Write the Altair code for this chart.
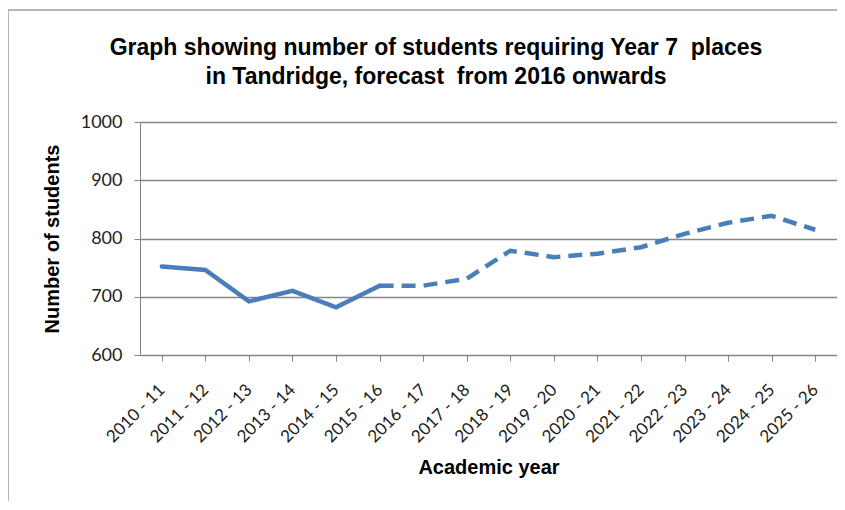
import altair as alt
import pandas as pd

years = ["2010 - 11", "2011 - 12", "2012 - 13", "2013 - 14", "2014 - 15", "2015 - 16",
         "2016 - 17", "2017 - 18", "2018 - 19", "2019 - 20", "2020 - 21", "2021 - 22",
         "2022 - 23", "2023 - 24", "2024 - 25", "2025 - 26"]
students = [752, 746, 692, 710, 682, 719, 719, 731, 779, 768, 774, 785, 808, 827, 839, 815]
actual_count = 6  # 2010-11 .. 2015-16 are actual; forecast continues from 2015-16
title_lines = ["Graph showing number of students requiring Year 7\u00a0 places",
               "in Tandridge, forecast\u00a0 from 2016 onwards"]

df = pd.DataFrame({"year": years, "students": students})
df_actual = df.iloc[:actual_count]
df_forecast = df.iloc[actual_count - 1:]

W, H = 697, 233
LINE_COLOR = "#4a7ebb"
NARROW = "Liberation Sans Narrow, Liberation Sans, Arial"

x_enc = alt.X("year:N", sort=years, title="Academic year",
              scale=alt.Scale(paddingInner=0, paddingOuter=0),
              axis=alt.Axis(labelAngle=-45, labelAlign="right", labelBaseline="middle",
                            labelPadding=26, tickSize=6, ticks=True, domainColor="#868686",
                            tickColor="#868686", grid=False, titlePadding=12,
                            bandPosition=0, labelFont="Lato", labelFontSize=17,
                            labelColor="#222222", titleFont=NARROW, titleFontSize=20,
                            titleFontWeight="bold", titleColor="#000000"))
y_enc = alt.Y("students:Q", title="Number of students",
              scale=alt.Scale(domain=[600, 1000], nice=False, zero=False),
              axis=alt.Axis(values=[600, 700, 800, 900, 1000], format="d", tickSize=6,
                            domainColor="#868686", tickColor="#868686",
                            gridColor="#868686", gridWidth=1.3, titlePadding=18,
                            labelPadding=12, labelFont="Lato", labelFontSize=18,
                            labelColor="#222222", titleFont=NARROW, titleFontSize=20,
                            titleFontWeight="bold", titleColor="#000000"))

one = pd.DataFrame({"a": [0]})
frame = alt.Chart(one).mark_rect(
    fill=None, stroke="#a0a0a0", strokeWidth=1.5
).encode(x=alt.value(-132), x2=alt.value(W + 200), y=alt.value(-112), y2=alt.value(H + 300))

title_layers = []
for line, ypos in zip(title_lines, [-67, -38]):
    title_layers.append(
        alt.Chart(one).mark_text(
            text=line, font=NARROW, fontSize=23, fontWeight="bold", color="#000000",
            align="center", baseline="alphabetic"
        ).encode(x=alt.value(296), y=alt.value(ypos))
    )

solid = alt.Chart(df_actual).mark_line(color=LINE_COLOR, strokeWidth=4.5, strokeCap="round").encode(
    x=x_enc, y=y_enc)
dashed = alt.Chart(df_forecast).mark_line(color=LINE_COLOR, strokeWidth=4.5,
                                          strokeDash=[14, 8]).encode(
    x=alt.X("year:N", sort=years), y="students:Q")

chart = alt.layer(frame, solid, dashed, *title_layers).properties(
    width=W, height=H,
    autosize=alt.AutoSizeParams(type="none"),
    padding={"left": 132, "top": 114, "right": 0, "bottom": 146},
    background="white",
).configure_view(stroke=None)

chart.save("out.html", embed_options={"renderer": "svg", "actions": False})
